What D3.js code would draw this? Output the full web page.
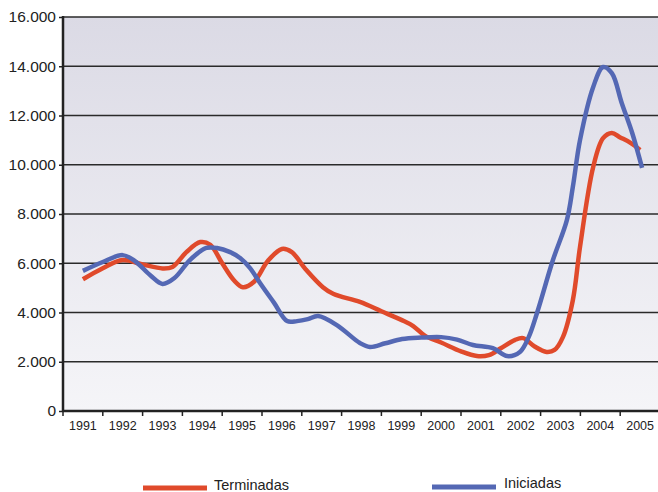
<!DOCTYPE html>
<html><head><meta charset="utf-8">
<script src="https://cdn.jsdelivr.net/npm/d3@7"></script>
<style>html,body{margin:0;padding:0;background:#fff;}svg{display:block;font-family:"Liberation Sans",Arial,sans-serif;}</style>
</head><body>
<svg id="c" width="658" height="492"></svg>
<script>
const years = ["1991","1992","1993","1994","1995","1996","1997","1998","1999","2000","2001","2002","2003","2004","2005"];
const yTicks = [0,2000,4000,6000,8000,10000,12000,14000,16000];
const seriesNames = ["Terminadas","Iniciadas"];
const terminadasT = [1991.0,1991.5,1992.0,1992.5,1993.0,1993.25,1993.6,1993.95,1994.2,1994.5,1994.8,1995.02,1995.3,1995.65,1996.0,1996.25,1996.6,1997.03,1997.3,1997.96,1998.5,1999.0,1999.3,1999.6,2000.0,2000.5,2000.9,2001.2,2001.5,2001.85,2002.06,2002.35,2002.65,2002.85,2003.06,2003.31,2003.49,2003.82,2004.07,2004.29,2004.49,2004.75,2005.0];
const terminadasV = [5350,5800,6130,5950,5790,5850,6450,6860,6750,6000,5300,5030,5250,6100,6580,6450,5750,5030,4750,4430,4050,3700,3450,3050,2780,2420,2230,2270,2550,2880,2960,2620,2400,2480,3000,4500,6660,9900,11080,11290,11120,10900,10600];
const iniciadasT = [1991.0,1991.5,1992.0,1992.3,1992.7,1993.0,1993.3,1993.7,1994.1,1994.37,1994.7,1994.95,1995.2,1995.45,1995.8,1996.13,1996.38,1996.65,1996.91,1997.38,1997.96,1998.21,1998.6,1999.02,1999.5,2000.0,2000.4,2000.8,2001.3,2001.66,2001.98,2002.2,2002.41,2002.81,2003.16,2003.31,2003.49,2003.82,2004.07,2004.29,2004.54,2004.8,2005.05];
const iniciadasV = [5690,6050,6330,6100,5500,5160,5400,6150,6620,6620,6450,6210,5800,5200,4400,3650,3650,3730,3860,3490,2760,2600,2750,2920,2980,3000,2900,2680,2550,2230,2400,3000,3980,6130,7750,9100,11000,13150,13970,13720,12500,11300,9870];

const svg = d3.select("#c");
const L = 63, R = 660, T = 17, B = 411;
const defs = svg.append("defs");
const g = defs.append("linearGradient").attr("id","bg").attr("x1",0).attr("y1",0).attr("x2",0).attr("y2",1);
g.append("stop").attr("offset","0%").attr("stop-color","#dbdae5");
g.append("stop").attr("offset","100%").attr("stop-color","#f5f5f8");

const x = d3.scaleBand().domain(years).range([L,R]);
const xl = d3.scaleLinear().domain([+years[0]-0.5, +years[years.length-1]+0.5]).range([L,R]);
const y = d3.scaleLinear().domain([0,16000]).range([B,T]);

svg.append("rect").attr("x",L).attr("y",T).attr("width",R-L).attr("height",B-T).attr("fill","url(#bg)");

svg.append("g").selectAll("line").data(yTicks.filter(d=>d>0)).join("line")
  .attr("x1",L).attr("x2",R).attr("y1",d=>y(d)).attr("y2",d=>y(d))
  .attr("stroke","#2a2a2a").attr("stroke-width",1.5);

const fmt = d => d===0 ? "0" : d3.format(",")(d).replace(/,/g,".");
const ya = svg.append("g").attr("transform",`translate(${L},0)`)
  .call(d3.axisLeft(y).tickValues(yTicks).tickFormat(fmt).tickSize(4).tickPadding(3));
ya.select(".domain").remove();
ya.selectAll(".tick line").attr("stroke","#222").attr("stroke-width",1.5);
ya.selectAll("text").attr("font-size",15.5).attr("fill","#222");

const xa = svg.append("g").attr("transform",`translate(0,${B})`)
  .call(d3.axisBottom(x).tickSize(0).tickPadding(10));
xa.select(".domain").remove();
xa.selectAll("text").attr("font-size",12.5).attr("fill","#222");
svg.append("g").selectAll("line").data(years).join("line")
  .attr("x1",d=>x(d)).attr("x2",d=>x(d)).attr("y1",B).attr("y2",B+5)
  .attr("stroke","#222").attr("stroke-width",1.5);

svg.append("line").attr("x1",L).attr("x2",L).attr("y1",T-1).attr("y2",B+1).attr("stroke","#222").attr("stroke-width",2.5);
svg.append("line").attr("x1",L).attr("x2",R).attr("y1",B).attr("y2",B).attr("stroke","#222").attr("stroke-width",2.5);

const line = d3.line().x(d=>xl(d[0])).y(d=>y(d[1])).curve(d3.curveCatmullRom.alpha(0.5));
const colors = ["#e04a2b","#5468b4"];
const data = [d3.zip(terminadasT,terminadasV), d3.zip(iniciadasT,iniciadasV)];
data.forEach((d,i)=>{
  svg.append("path").datum(d).attr("d",line).attr("fill","none")
    .attr("stroke",colors[i]).attr("stroke-width",4.5).attr("stroke-linejoin","round");
});

const leg = [{x:143,y:488,tx:214,ty:490},{x:432,y:487,tx:504,ty:488}];
leg.forEach((p,i)=>{
  svg.append("line").attr("x1",p.x).attr("x2",p.x+64).attr("y1",p.y).attr("y2",p.y)
    .attr("stroke",colors[i]).attr("stroke-width",5);
  svg.append("text").attr("x",p.tx).attr("y",p.ty).attr("font-size",14.5).attr("fill","#222").text(seriesNames[i]);
});
</script>
</body></html>
